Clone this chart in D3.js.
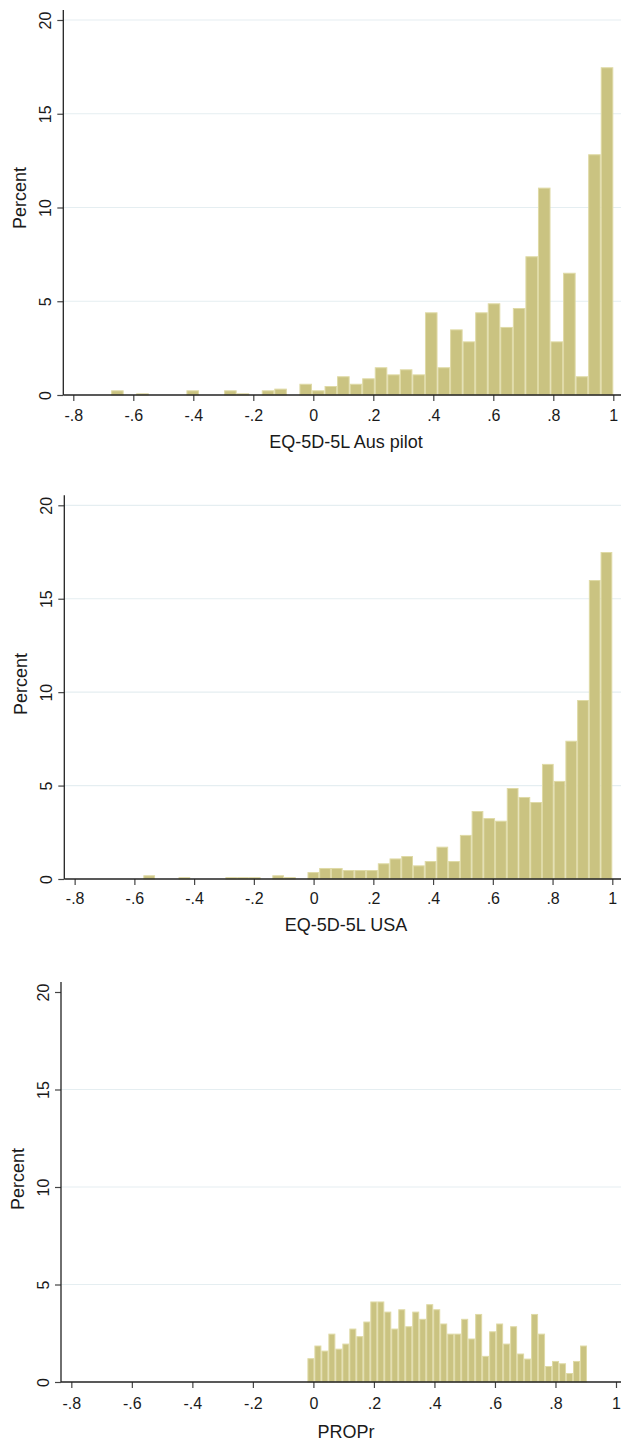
<!DOCTYPE html>
<html><head><meta charset="utf-8">
<script src="https://cdn.jsdelivr.net/npm/d3@7"></script>
<style>body{margin:0;background:#fff}svg{display:block}</style>
</head><body>
<svg id="c" width="621" height="1442"></svg>
<script>
// ---- data ----
const xTickValues = [-0.8, -0.6, -0.4, -0.2, 0, 0.2, 0.4, 0.6, 0.8, 1];
const xTickLabels = ["-.8", "-.6", "-.4", "-.2", "0", ".2", ".4", ".6", ".8", "1"];
const yTickValues = [0, 5, 10, 15, 20];
const yAxisTitle = "Percent";
const panelTitles = ["EQ-5D-5L Aus pilot", "EQ-5D-5L USA", "PROPr"];

const ausBinStart = -0.674, ausBinWidth = 0.04185;
const ausPercent = [0.25, 0, 0.09, 0, 0, 0, 0.25, 0, 0, 0.25,
  0.09, 0, 0.25, 0.34, 0, 0.6, 0.25, 0.48, 1.0, 0.6,
  0.89, 1.48, 1.1, 1.37, 1.1, 4.41, 1.48, 3.5, 2.86, 4.41,
  4.89, 3.63, 4.64, 7.40, 11.06, 2.86, 6.52, 1.0, 12.84, 17.48];

const usaBinStart = -0.57, usaBinWidth = 0.03925;
const usaPercent = [0.2, 0, 0, 0.1, 0, 0, 0, 0.1, 0.1, 0.1,
  0, 0.2, 0.1, 0, 0.37, 0.59, 0.59, 0.48, 0.48, 0.48,
  0.84, 1.1, 1.23, 0.73, 0.96, 1.73, 0.96, 2.36, 3.64, 3.26,
  3.12, 4.87, 4.39, 4.12, 6.16, 5.25, 7.40, 9.58, 16.0, 17.5];

const proprBinStart = -0.0198, proprBinWidth = 0.0231;
const proprPercent = [1.22, 1.87, 1.61, 2.48, 1.71, 1.97, 2.74, 2.35, 3.10, 4.13,
  4.13, 3.61, 2.74, 3.73, 2.86, 3.61, 3.24, 3.99, 3.73, 3.0,
  2.48, 2.48, 3.24, 2.23, 3.49, 1.34, 2.60, 3.0, 1.97, 2.86,
  1.46, 1.2, 3.49, 2.48, 0.82, 1.08, 0.96, 0.46, 1.08, 1.87];

const panelData = [
  {start: ausBinStart, width: ausBinWidth, values: ausPercent, grid: [5, 10, 15, 20]},
  {start: usaBinStart, width: usaBinWidth, values: usaPercent, grid: [5, 10, 15, 20]},
  {start: proprBinStart, width: proprBinWidth, values: proprPercent, grid: [5, 10, 15]}
];

// ---- layout (pixel positions) ----
const layouts = [
  {x0: 313.3, x1: 613.3, yZero: 395, yTop20: 20, axisX: 63.3, axisTop: 10, tickBase: 421, titleBase: 448, yTitleCenter: 198, yTitleBase: 26},
  {x0: 313.6, x1: 612.3, yZero: 879, yTop20: 505.3, axisX: 64.3, axisTop: 495.3, tickBase: 904, titleBase: 931, yTitleCenter: 684, yTitleBase: 26.5},
  {x0: 313.4, x1: 616, yZero: 1382, yTop20: 992, axisX: 61, axisTop: 982, tickBase: 1408.5, titleBase: 1438, yTitleCenter: 1179, yTitleBase: 23.5}
];
const rightEdge = 621;
const font = "'Liberation Sans', Arial, Helvetica, sans-serif";
const barFill = "#cac381", barStroke = "#dfdaa6", gridColor = "#e5eef1", axisColor = "#222";

const svg = d3.select("#c");

panelData.forEach((P, k) => {
  const L = layouts[k];
  const x = d3.scaleLinear().domain([0, 1]).range([L.x0, L.x1]);
  const y = d3.scaleLinear().domain([0, 20]).range([L.yZero, L.yTop20]);
  const g = svg.append("g");

  // gridlines
  g.selectAll("line.grid").data(P.grid).enter().append("line")
    .attr("x1", L.axisX).attr("x2", rightEdge)
    .attr("y1", d => y(d)).attr("y2", d => y(d))
    .attr("stroke", gridColor).attr("stroke-width", 1.2);

  // bars
  const bins = P.values.map((v, i) => ({a: P.start + i * P.width, b: P.start + (i + 1) * P.width, v}))
    .filter(d => d.v > 0);
  g.selectAll("rect.bar").data(bins).enter().append("rect")
    .attr("x", d => x(d.a) + 0.5)
    .attr("width", d => x(d.b) - x(d.a) - 1)
    .attr("y", d => y(d.v) + 0.5)
    .attr("height", d => Math.max(0, y(0) - y(d.v) - 0.5))
    .attr("fill", barFill).attr("stroke", barStroke).attr("stroke-width", 1);

  // x axis
  const xa = g.append("g").attr("transform", `translate(0,${L.yZero})`)
    .call(d3.axisBottom(x).tickValues(xTickValues).tickFormat((d, i) => xTickLabels[i]).tickSize(6).tickSizeOuter(0));
  xa.select(".domain").remove();
  xa.selectAll(".tick line").attr("stroke", "#444").attr("stroke-width", 1.2);
  xa.selectAll(".tick text").attr("y", L.tickBase - L.yZero).attr("dy", null)
    .attr("fill", "#1a1a1a").style("font-family", font).style("font-size", "16px");
  g.append("line").attr("x1", L.axisX).attr("x2", rightEdge).attr("y1", L.yZero).attr("y2", L.yZero)
    .attr("stroke", axisColor).attr("stroke-width", 1.3);

  // y axis
  const ya = g.append("g").attr("transform", `translate(${L.axisX},0)`)
    .call(d3.axisLeft(y).tickValues(yTickValues).tickSize(6).tickSizeOuter(0));
  ya.select(".domain").remove();
  ya.selectAll(".tick line").attr("stroke", "#444").attr("stroke-width", 1.2);
  ya.selectAll(".tick text").attr("x", null).attr("dy", null)
    .attr("transform", "translate(-12,0) rotate(-90)")
    .attr("text-anchor", "middle")
    .attr("fill", "#1a1a1a").style("font-family", font).style("font-size", "16px");
  g.append("line").attr("x1", L.axisX).attr("x2", L.axisX).attr("y1", L.yZero).attr("y2", L.axisTop)
    .attr("stroke", axisColor).attr("stroke-width", 1.3);

  // titles
  g.append("text").attr("x", 346).attr("y", L.titleBase).attr("text-anchor", "middle")
    .attr("fill", "#1a1a1a").style("font-family", font).style("font-size", "18px").text(panelTitles[k]);
  g.append("text").attr("transform", `translate(${L.yTitleBase},${L.yTitleCenter}) rotate(-90)`)
    .attr("text-anchor", "middle")
    .attr("fill", "#1a1a1a").style("font-family", font).style("font-size", "18px").text(yAxisTitle);
});
</script>
</body></html>
